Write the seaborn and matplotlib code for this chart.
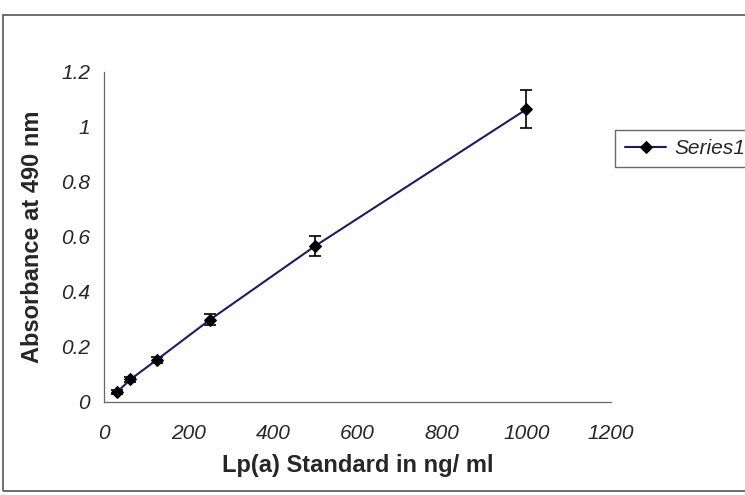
import matplotlib
matplotlib.use("Agg")
import matplotlib.pyplot as plt
import matplotlib.patches as mpatches
import seaborn as sns
import pandas as pd

# Lp(a) ELISA standard curve
concentration = [31.25, 62.5, 125, 250, 500, 1000]
absorbance = [0.036, 0.082, 0.153, 0.298, 0.567, 1.064]
abs_error = [0.006, 0.008, 0.010, 0.020, 0.036, 0.070]
series_name = "Series1"

x_ticks = [0, 200, 400, 600, 800, 1000, 1200]
y_ticks = [0, 0.2, 0.4, 0.6, 0.8, 1.0, 1.2]
y_tick_labels = ["0", "0.2", "0.4", "0.6", "0.8", "1", "1.2"]

df = pd.DataFrame({"conc": concentration, "abs": absorbance,
                   "err": abs_error, "series": series_name})

sns.set_theme(style="white")
plt.rcParams["font.family"] = ["Liberation Sans", "DejaVu Sans"]

fig = plt.figure(figsize=(7.45, 4.95), dpi=100)
ax = fig.add_axes([0.1396, 0.188, 0.6805, 0.667])

# outer chart frame
fig.patches.append(mpatches.Rectangle((0.004, 0.008), 1.2, 0.962,
                                      transform=fig.transFigure,
                                      fill=False, edgecolor="#555555",
                                      linewidth=1.2))

ax.errorbar(df["conc"], df["abs"], yerr=df["err"], fmt="none",
            ecolor="black", elinewidth=1.2, capsize=4.5, capthick=1.2,
            zorder=2)
sns.lineplot(data=df, x="conc", y="abs", hue="series", ax=ax,
             palette=["#1c1c66"], marker="D", markersize=6.5,
             markerfacecolor="black", markeredgecolor="black",
             linewidth=1.5, zorder=3)

ax.set_xlim(0, 1200)
ax.set_ylim(0, 1.2)
ax.set_xticks(x_ticks)
ax.set_xticklabels([str(t) for t in x_ticks], style="italic", fontsize=15)
ax.set_yticks(y_ticks)
ax.set_yticklabels(y_tick_labels, style="italic", fontsize=15)
ax.tick_params(axis="both", direction="out", length=6, width=0.8,
               color="#777777")
ax.tick_params(axis="x", pad=10)
ax.tick_params(axis="y", pad=4)

for side in ("top", "right"):
    ax.spines[side].set_visible(False)
for side in ("left", "bottom"):
    ax.spines[side].set_color("#666666")
    ax.spines[side].set_linewidth(0.9)

ax.set_xlabel("Lp(a) Standard in ng/ ml", fontsize=17, fontweight="bold",
              labelpad=8)
ax.set_ylabel("Absorbance at 490 nm", fontsize=17, fontweight="bold",
              labelpad=12)

leg = ax.legend(loc="center left", bbox_to_anchor=(0.812, 0.70),
                bbox_transform=fig.transFigure, frameon=True, fancybox=False,
                prop={"style": "italic", "size": 15}, handlelength=2.0,
                borderpad=0.45, handletextpad=0.4)
leg.get_frame().set_edgecolor("#444444")
leg.get_frame().set_linewidth(1.0)

fig.savefig("out.png", dpi=100)
